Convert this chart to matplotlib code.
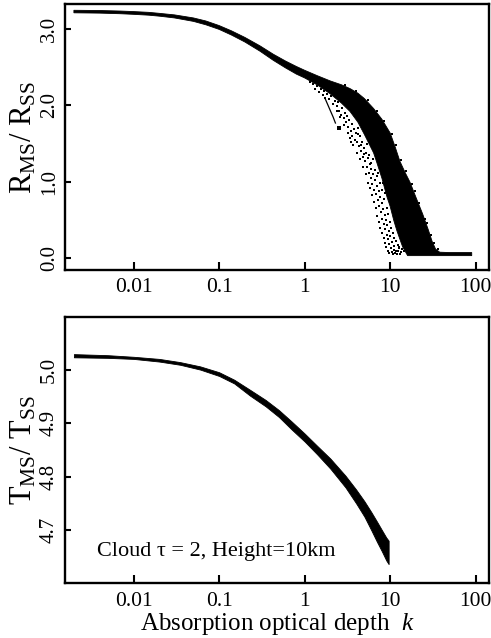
import matplotlib
matplotlib.use("Agg")
import matplotlib.pyplot as plt
import numpy as np

plt.rcParams['font.family'] = ['Liberation Serif', 'DejaVu Serif']
plt.rcParams['mathtext.fontset'] = 'custom'
plt.rcParams['mathtext.rm'] = 'Liberation Serif'
plt.rcParams['mathtext.it'] = 'Liberation Serif:italic'

# ---- top panel: R_MS / R_SS, upper and lower edge of the dense cloud
k_hi = [0.002, 0.004, 0.007, 0.01, 0.015, 0.02, 0.03, 0.05, 0.07, 0.1, 0.14,
        0.2, 0.3, 0.43, 0.6, 0.8, 1, 1.4, 2, 2.7, 3.4, 4.2, 5, 6.4, 8, 10,
        11.5, 13, 15, 17, 20, 24, 28, 31, 34, 38, 50, 90]
r_hi = [3.245, 3.242, 3.235, 3.228, 3.218, 3.205, 3.185, 3.145, 3.105, 3.045,
        2.975, 2.89, 2.78, 2.67, 2.58, 2.51, 2.46, 2.39, 2.32, 2.27, 2.22,
        2.16, 2.09, 1.96, 1.82, 1.64, 1.45, 1.27, 1.12, 1.00, 0.80, 0.58,
        0.37, 0.22, 0.12, 0.08, 0.075, 0.075]
k_lo = [0.002, 0.004, 0.007, 0.01, 0.015, 0.02, 0.03, 0.05, 0.07, 0.1, 0.14,
        0.2, 0.3, 0.43, 0.6, 0.8, 1, 1.4, 2, 2.7, 3.4, 4.2, 5, 6.4, 7, 8,
        9.2, 10, 11, 12, 13, 14, 16, 90]
r_lo = [3.212, 3.208, 3.200, 3.192, 3.181, 3.168, 3.145, 3.10, 3.055, 2.995,
        2.92, 2.83, 2.71, 2.59, 2.49, 2.41, 2.36, 2.27, 2.15, 2.03, 1.92,
        1.78, 1.62, 1.38, 1.25, 1.05, 0.80, 0.68, 0.50, 0.36, 0.25, 0.15,
        0.035, 0.035]

# scattered points around the dense band
k_out = [1.15, 1.25, 1.32, 1.40, 1.48, 1.55, 1.62, 1.68, 1.75, 1.82, 1.95,
         2.05, 2.12, 2.25, 2.38, 2.45,
         2.55, 2.65, 2.72, 2.85, 2.95, 3.05, 3.15, 3.25, 3.32, 3.45, 3.55,
         3.62, 3.75, 3.85, 3.95, 4.1, 4.2, 4.35, 4.45,
         4.6, 4.7, 4.85, 4.95, 5.1, 5.2, 5.35, 5.5, 5.6, 5.75, 5.9, 6.05,
         6.2, 6.35, 6.5, 6.7, 6.9,
         7.05, 7.2, 7.35, 7.5, 7.65, 7.8, 7.95, 8.1, 8.3, 8.45, 8.6, 8.8,
         8.95, 9.1, 9.3, 9.45, 9.6, 9.8,
         10.0, 10.2, 10.4, 10.6, 10.8, 11.0, 11.2, 11.4, 11.7, 12.0, 12.3,
         12.6, 12.9, 13.3,
         3.35, 3.7, 4.05, 4.4, 4.8, 5.15, 5.45, 5.8, 6.1, 6.45, 6.8, 7.1,
         7.4, 7.7, 8.05, 8.4, 8.7, 9.05, 9.4, 9.7,
         4.25, 4.55, 5.0, 5.3, 5.7, 6.0, 6.3, 6.6, 7.0, 7.3, 7.6, 8.0, 8.2,
         8.5, 8.8, 9.2, 9.5, 9.9, 10.3, 10.7, 11.1, 11.6, 12.2, 12.8, 13.6,
         14.5,
         2.4, 2.6, 2.9, 3.2, 3.5,
         3.0, 4.0, 5.5, 7.0, 8.5, 10.5, 11.8, 13.5, 15.5, 18.0, 19.5, 22.0,
         25.5, 27.0, 30.0, 33.0, 36.0]
r_out = [2.31, 2.28, 2.22, 2.25, 2.18, 2.21, 2.14, 2.19, 2.10, 2.15, 2.08,
         2.12, 2.02, 2.06, 1.99, 2.04,
         1.93, 1.88, 1.97, 1.84, 1.90, 1.78, 1.86, 1.72, 1.81, 1.66, 1.76,
         1.60, 1.69, 1.55, 1.64, 1.52, 1.71, 1.47, 1.60,
         1.40, 1.52, 1.33, 1.44, 1.27, 1.38, 1.20, 1.31, 1.12, 1.24, 1.05, 1.17,
         0.97, 1.10, 0.90, 1.02, 0.84,
         0.95, 0.76, 0.88, 0.68, 0.80, 0.60, 0.72, 0.52, 0.64, 0.45, 0.57, 0.38,
         0.50, 0.31, 0.44, 0.25, 0.36, 0.19,
         0.29, 0.13, 0.08, 0.21, 0.06, 0.11, 0.16, 0.07, 0.10, 0.05, 0.09,
         0.13, 0.06, 0.08,
         1.58, 1.48, 1.38, 1.30, 1.20, 1.10, 0.99, 0.92, 0.83, 0.74, 0.66, 0.56,
         0.47, 0.39, 0.33, 0.27, 0.20, 0.15, 0.10, 0.07,
         1.62, 1.48, 1.37, 1.50, 1.35, 1.25, 1.30, 1.15, 1.08, 1.12, 0.98, 0.90,
         0.98, 0.78, 0.85, 0.66, 0.58, 0.47, 0.40, 0.33, 0.27, 0.22, 0.18,
         0.15, 0.12, 0.10,
         1.93, 1.85, 1.75, 1.64, 1.52,
         2.27, 2.19, 2.07, 1.93, 1.80, 1.62, 1.48, 1.28, 1.14, 0.97, 0.88, 0.72,
         0.52, 0.46, 0.31, 0.20, 0.12]

# thin branch splitting off near k ~ 2
k_branch = [1.75, 1.83, 2.0, 2.15, 2.29]
r_branch = [2.08, 2.03, 1.93, 1.85, 1.77]
k_dot = [2.5]
r_dot = [1.70]

# ---- bottom panel: T_MS / T_SS band
k_t = [0.002, 0.005, 0.01, 0.02, 0.035, 0.06, 0.1, 0.15, 0.23, 0.35, 0.5,
       0.7, 1, 1.4, 2, 3, 4, 5, 6, 7, 8, 9, 9.6]
t_hi = [5.030, 5.028, 5.025, 5.021, 5.015, 5.007, 4.996, 4.982, 4.963, 4.944,
        4.925, 4.904, 4.881, 4.858, 4.834, 4.802, 4.776, 4.754, 4.734, 4.716,
        4.700, 4.686, 4.680]
t_lo = [5.024, 5.023, 5.021, 5.016, 5.010, 5.001, 4.989, 4.975, 4.952, 4.932,
        4.912, 4.889, 4.866, 4.842, 4.815, 4.780, 4.750, 4.725, 4.700, 4.678,
        4.660, 4.643, 4.636]

xticks = [0.01, 0.1, 1, 10, 100]
xticklabels = ["0.01", "0.1", "1", "10", "100"]

fig = plt.figure(figsize=(4.91, 6.38), dpi=100)
ax1 = fig.add_axes([0.1324, 0.5768, 0.8635, 0.4169])
ax2 = fig.add_axes([0.1324, 0.0857, 0.8635, 0.4169])

ax1.fill(k_hi + k_lo[::-1], r_hi + r_lo[::-1], color='black', lw=0.6)
ax1.scatter(k_out, r_out, s=3.5, marker='s', color='black', lw=0)
ax1.plot(k_branch, r_branch, color='black', lw=0.9)
ax1.scatter(k_dot, r_dot, s=5, marker='s', color='black', lw=0)

ax2.fill_between(k_t, t_lo, t_hi, color='black', lw=0.6)
ax2.text(0.0755, 0.1026, "Cloud \u03c4 = 2, Height=10km", transform=ax2.transAxes,
         fontsize=16, va='baseline', ha='left')

for ax in (ax1, ax2):
    ax.set_xscale('log')
    ax.set_xlim(10 ** -2.803, 10 ** 2.156)
    ax.set_xticks(xticks)
    ax.set_xticklabels(xticklabels)
    ax.minorticks_off()
    ax.tick_params(axis='x', direction='in', length=6, width=1.5, pad=6,
                   labelsize=15.5)
    ax.tick_params(axis='y', direction='in', length=4, width=1.5, pad=4.5,
                   labelsize=15)
    for sp in ax.spines.values():
        sp.set_linewidth(1.7)
    plt.setp(ax.get_yticklabels(), rotation=90, va='center')

ax1.set_ylim(-0.153, 3.327)
ax1.set_yticks([0.0, 1.0, 2.0, 3.0])
ax1.set_yticklabels(["0.0", "1.0", "2.0", "3.0"])
ax1.set_ylabel(r"$\mathrm{R_{MS}/\ R_{SS}}$", fontsize=22, labelpad=1)

ax2.set_ylim(4.600, 5.099)
ax2.set_yticks([4.7, 4.8, 4.9, 5.0])
ax2.set_yticklabels(["4.7", "4.8", "4.9", "5.0"])
ax2.set_ylabel(r"$\mathrm{T_{MS}/\ T_{SS}}$", fontsize=22, labelpad=1)
ax2.set_xlabel(r"Absorption optical depth  $k$", fontsize=18, labelpad=0)

fig.savefig("out.png", dpi=100)
